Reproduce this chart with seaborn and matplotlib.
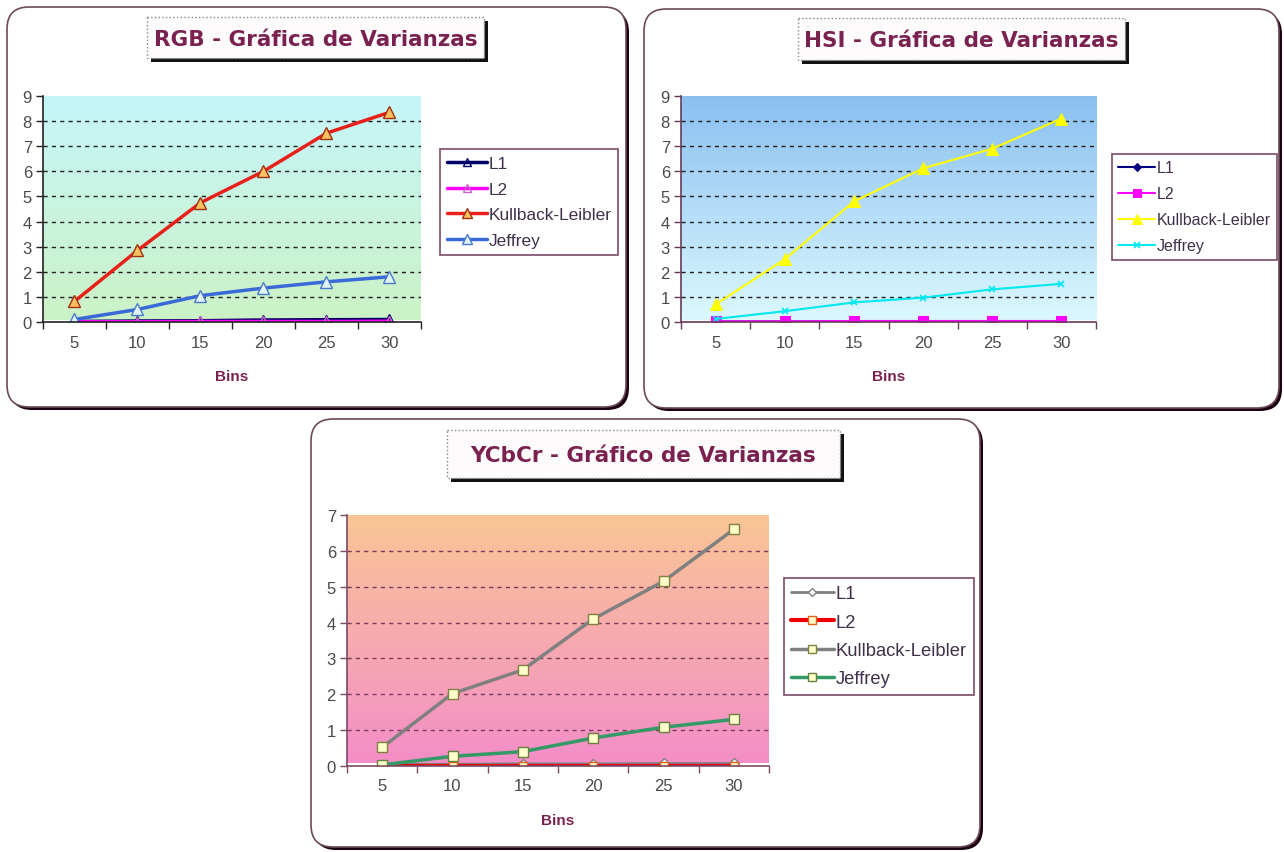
import numpy as np
import seaborn as sns
import matplotlib
matplotlib.use('Agg')
import matplotlib.pyplot as plt
from matplotlib.patches import FancyBboxPatch, Rectangle
from matplotlib.colors import LinearSegmentedColormap

# datos
bins = [5, 10, 15, 20, 25, 30]
series_names = ['L1', 'L2', 'Kullback-Leibler', 'Jeffrey']

rgb_l1 = [0.02, 0.04, 0.05, 0.08, 0.09, 0.10]
rgb_l2 = [0.01, 0.01, 0.02, 0.02, 0.02, 0.03]
rgb_kl = [0.82, 2.85, 4.75, 6.0, 7.52, 8.35]
rgb_jeffrey = [0.10, 0.50, 1.05, 1.35, 1.60, 1.80]

hsi_l1 = [0.02, 0.02, 0.03, 0.03, 0.03, 0.03]
hsi_l2 = [0.03, 0.03, 0.04, 0.04, 0.04, 0.04]
hsi_kl = [0.70, 2.50, 4.80, 6.12, 6.90, 8.10]
hsi_jeffrey = [0.12, 0.43, 0.78, 0.97, 1.30, 1.52]

ycc_l1 = [0.04, 0.05, 0.06, 0.06, 0.07, 0.07]
ycc_l2 = [0.01, 0.01, 0.01, 0.01, 0.01, 0.01]
ycc_kl = [0.52, 2.02, 2.68, 4.10, 5.15, 6.60]
ycc_jeffrey = [0.03, 0.27, 0.40, 0.78, 1.08, 1.30]

W, H = 1284, 853
title_color = '#7b2150'
text_color = '#40304a'
tick_color = '#4a4a4a'

sns.set_style("white")
plt.rcParams['font.family'] = ['Liberation Sans', 'DejaVu Sans']

fig = plt.figure(figsize=(W / 100, H / 100), dpi=100)
fig.patch.set_facecolor('white')

# capa de fondo en pixeles para marcos y titulos
bg = fig.add_axes([0, 0, 1, 1], zorder=0)
bg.set_xlim(0, W)
bg.set_ylim(H, 0)
bg.axis('off')


def frame(x0, y0, x1, y1):
    shadow = FancyBboxPatch((x0 + 3, y0 + 3), x1 - x0, y1 - y0,
                            boxstyle='round,pad=0,rounding_size=22',
                            fc='#1a0010', ec='none')
    box = FancyBboxPatch((x0, y0), x1 - x0, y1 - y0,
                         boxstyle='round,pad=0,rounding_size=22',
                         fc='white', ec='#6a4a5a', lw=1.2)
    bg.add_patch(shadow)
    bg.add_patch(box)


def title_box(x0, y0, x1, y1, text):
    bg.add_patch(Rectangle((x0 + 4, y0 + 4), x1 - x0, y1 - y0, fc='#111111', ec='none'))
    bg.add_patch(Rectangle((x0, y0), x1 - x0, y1 - y0, fc='#fdfbfc',
                           ec='#888888', lw=1, ls=':'))
    bg.text((x0 + x1) / 2, (y0 + y1) / 2 + 1, text, ha='center', va='center',
            fontsize=15.5, fontweight='bold', color=title_color,
            family=['DejaVu Sans'])


def px_axes(left, top, right, bottom):
    ax = fig.add_axes([left / W, 1 - bottom / H, (right - left) / W, (bottom - top) / H],
                      zorder=1)
    ax.patch.set_alpha(0)
    return ax


def draw_panel(ax, data, styles, ymax, grad, spine_color, grid_color, legend_xy,
               legend_size, legend_spacing):
    # fondo degradado
    cmap = LinearSegmentedColormap.from_list('grad', grad)
    ax.imshow(np.linspace(0, 1, 256).reshape(-1, 1), cmap=cmap, origin='lower',
              extent=(-0.5, 5.5, 0.08, ymax), aspect='auto', zorder=0)
    ax.hlines(range(1, ymax), -0.5, 5.5, colors=grid_color, linestyles=(0, (3, 3)),
              lw=1, zorder=0.5)

    xpos = list(range(len(bins)))
    for name, values, st in zip(series_names, data, styles):
        sns.lineplot(x=xpos, y=values, ax=ax, label=name, **st)

    ax.set_xlim(-0.5, 5.5)
    ax.set_ylim(0, ymax)
    ax.set_xticks(xpos)
    ax.set_xticklabels(bins)
    ax.set_xticks(np.arange(-0.5, 6, 1), minor=True)
    ax.set_yticks(range(0, ymax + 1))
    ax.tick_params(axis='x', which='major', length=0, pad=9, labelsize=12,
                   labelcolor=tick_color)
    ax.tick_params(axis='x', which='minor', length=5, width=1, direction='out',
                   bottom=True, color=spine_color)
    ax.tick_params(axis='y', length=5, width=1, direction='out', left=True,
                   color=spine_color, labelsize=12, labelcolor=tick_color, pad=3)
    for side in ['top', 'right']:
        ax.spines[side].set_visible(False)
    for side in ['left', 'bottom']:
        ax.spines[side].set_color(spine_color)
        ax.spines[side].set_linewidth(1.2)

    ax.set_xlabel('Bins', fontsize=11, fontweight='bold', color=title_color, labelpad=14)
    ax.set_ylabel('')

    handles, labels = ax.get_legend_handles_labels()
    leg = ax.legend(handles, labels, loc='upper left',
                    bbox_to_anchor=(legend_xy[0] / W, 1 - legend_xy[1] / H),
                    bbox_transform=fig.transFigure, borderaxespad=0,
                    frameon=True, fancybox=False, framealpha=1, fontsize=legend_size,
                    labelspacing=legend_spacing, handlelength=2.3, handletextpad=0.1,
                    borderpad=0.4, markerscale=0.85)
    leg.get_frame().set_edgecolor('#7a4a66')
    leg.get_frame().set_linewidth(1.2)
    for t in leg.get_texts():
        t.set_color(text_color)


# marcos y titulos
frame(7, 8, 626, 408)
frame(644, 10, 1279, 409)
frame(311, 420, 980, 848)
title_box(147, 18, 484, 59, 'RGB - Gráfica de Varianzas')
title_box(798, 19, 1125, 61, 'HSI - Gráfica de Varianzas')
title_box(447, 431, 840, 479, 'YCbCr - Gráfico de Varianzas')

# RGB
rgb_styles = [
    dict(color='#000066', lw=2.5, marker='^', ms=7, mfc='none', mec='#000066', mew=1),
    dict(color='#ff00ff', lw=2.5, marker='^', ms=7, mfc='none', mec='#cc66cc', mew=1),
    dict(color='#e8201a', lw=2.5, marker='^', ms=8, mfc='#f8c060', mec='#a03010', mew=1),
    dict(color='#3a6ad8', lw=2.5, marker='^', ms=8, mfc='#e0f4f8', mec='#4a7ac8', mew=1),
]
ax1 = px_axes(43, 97, 421, 323)
draw_panel(ax1, [rgb_l1, rgb_l2, rgb_kl, rgb_jeffrey], rgb_styles, 9,
           ['#ccf2c6', '#c6f6fa'], '#222222', '#222222', (440, 150), 12.4, 0.62)

# HSI
hsi_styles = [
    dict(color='#000080', lw=1.5, marker='D', ms=5, mfc='#000080', mec='#000080'),
    dict(color='#ff00ff', lw=1.5, marker='s', ms=7, mfc='#ff00ff', mec='#ff00ff'),
    dict(color='#ffff00', lw=1.5, marker='^', ms=8, mfc='#ffff00', mec='#ffff00'),
    dict(color='#00e8f0', lw=1.5, marker='x', ms=5, mfc='#00e8f0', mec='#00e8f0', mew=1.2),
]
ax2 = px_axes(681, 97, 1096, 323)
draw_panel(ax2, [hsi_l1, hsi_l2, hsi_kl, hsi_jeffrey], hsi_styles, 9,
           ['#dcf8ff', '#8ac0f0'], '#6a3a5a', '#222222', (1112, 155), 11.5, 0.69)

# YCbCr
ycc_styles = [
    dict(color='#808080', lw=2, marker='D', ms=5, mfc='white', mec='#808080', mew=1),
    dict(color='#ee0000', lw=3, marker='s', ms=6, mfc='#ffffcc', mec='#e06020', mew=1),
    dict(color='#808080', lw=2.5, marker='s', ms=7, mfc='#ffffcc', mec='#808040', mew=1),
    dict(color='#339966', lw=2.5, marker='s', ms=7, mfc='#ffffcc', mec='#668040', mew=1),
]
ax3 = px_axes(347, 516, 769, 767)
draw_panel(ax3, [ycc_l1, ycc_l2, ycc_kl, ycc_jeffrey], ycc_styles, 7,
           ['#f48ec8', '#f9c695'], '#7a4a66', '#7a3a5a', (784, 579), 13.2, 0.62)

plt.savefig('out.png', dpi=100, facecolor='white')
plt.close()
